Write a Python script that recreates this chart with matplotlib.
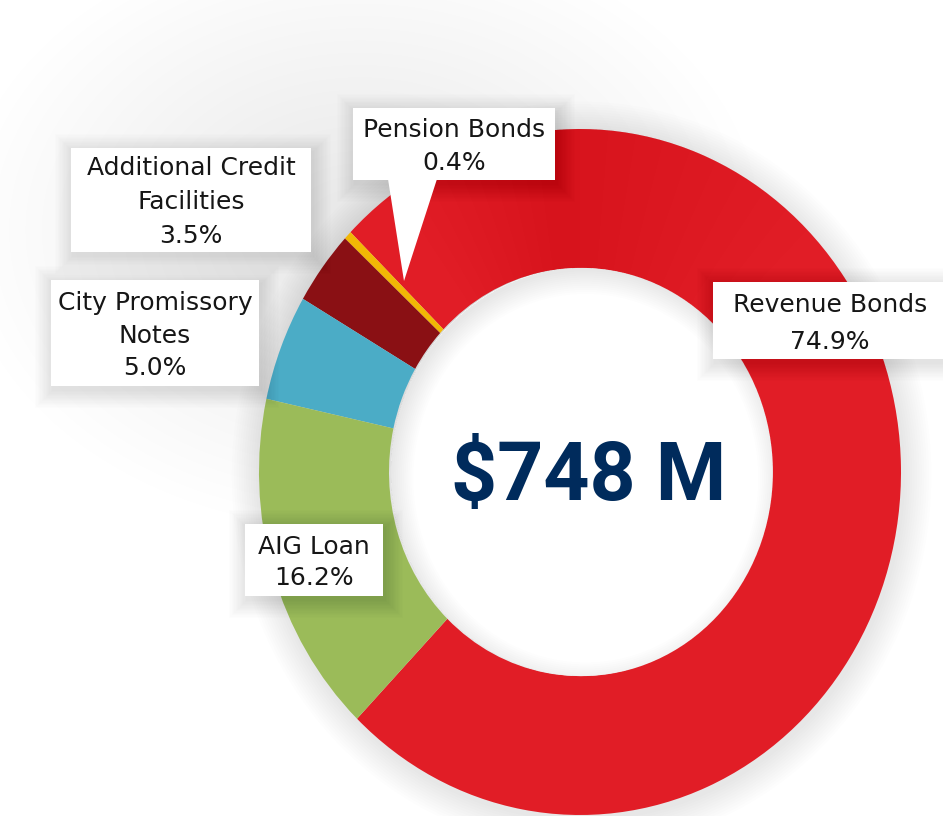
import matplotlib
matplotlib.use("Agg")
import matplotlib.pyplot as plt
from matplotlib.patches import Rectangle, Polygon, Ellipse, Wedge, Circle

# ---------------- data ----------------
categories = ["Revenue Bonds", "Pension Bonds", "Additional Credit Facilities",
              "City Promissory Notes", "AIG Loan"]
label_lines = [["Revenue Bonds"], ["Pension Bonds"], ["Additional Credit", "Facilities"],
               ["City Promissory", "Notes"], ["AIG Loan"]]
shares = [74.9, 0.4, 3.5, 5.0, 16.2]
total_label = "$748 M"

colors = ["#E11D26", "#F2B705", "#8A1014", "#4BACC6", "#9BBB59"]

# ---------------- layout (image pixels) ----------------
W, H = 943, 816
CX, CY = 580, 472          # ring centre in pixels
RX, RY = 321, 343          # outer radius in pixels (horizontal / vertical)


def P(x, y):
    return ((x - CX) / RX, (CY - y) / RY)


fig = plt.figure(figsize=(W / 100, H / 100), dpi=100)
ax = fig.add_axes([0, 0, 1, 1])

# broad grey haze at the upper left
hx, hy = P(360, 230)
n = 22
for k in range(n):
    r = 40 + 360 * (k + 1) / n
    ax.add_patch(Ellipse((hx, hy), 2 * r / RX, 1.5 * r / RY, facecolor="black",
                         edgecolor="none", alpha=0.0042, zorder=0))

# tight shadow around the ring
n = 12
for k in range(n):
    s = 1.0 + 0.09 * (k + 1) / n
    ax.add_patch(Ellipse((0.005, -0.01), 2 * s, 2 * s, facecolor="black",
                         edgecolor="none", alpha=0.0075, zorder=1))

# ring
wedges, _ = ax.pie(shares, colors=colors, startangle=226, counterclock=True,
                   radius=1.0, wedgeprops=dict(width=0.405, edgecolor="none"))
for w in wedges:
    w.set_zorder(2)

# slightly darker top of the big red slice
for k in range(10):
    shade = Wedge((0, 0), 1.0, 45 + 5 * k, 125 - 3 * k, width=0.405,
                  facecolor="#B0121A", edgecolor="none", alpha=0.02, zorder=2.5)
    ax.add_patch(shade)

# white hole + inner shadow
r_in = 0.595
hole = Circle((0.006, 0), r_in, facecolor="white", edgecolor="none", zorder=3)
ax.add_patch(hole)
for k in range(12):
    ring = Wedge((0.018, -0.018), r_in + 0.02, 0, 360, width=0.012 + 0.006 * k,
                 facecolor="black", edgecolor="none", alpha=0.009, zorder=4)
    ring.set_clip_path(hole)
    ax.add_patch(ring)

# centre total
ax.text(*P(589, 500), total_label, ha="center", va="baseline",
        fontsize=58, fontweight="bold", color="#002B5C",
        family=["Roboto", "DejaVu Sans"], zorder=6)

# label boxes: (x0, y0, x1, y1, centre x, line ys)
boxes = [
    (713, 282, 960, 359, 830, [305, 342]),
    (353, 108, 555, 180, 454, [130, 163]),
    (71, 148, 311, 252, 191, [168, 202, 236]),
    (51, 280, 259, 386, 155, [303, 336, 368]),
    (245, 524, 383, 596, 314, [547, 578]),
]

# pointer of the Pension Bonds callout
ax.add_patch(Polygon([P(388, 179), P(437, 179), P(404, 281)], closed=True,
                     facecolor="white", edgecolor="none", zorder=7))

for i, (x0, y0, x1, y1, tx, ys) in enumerate(boxes):
    # soft shadow
    for k in range(14):
        pad = 1 + 1.3 * k
        a, b = P(x0 - pad + 2, y1 + pad + 4)
        c, d = P(x1 + pad + 2, y0 - pad + 4)
        ax.add_patch(Rectangle((a, b), c - a, d - b, facecolor="black",
                               edgecolor="none", alpha=0.006, zorder=5))
    a, b = P(x0, y1)
    c, d = P(x1, y0)
    ax.add_patch(Rectangle((a, b), c - a, d - b, facecolor="white",
                           edgecolor="none", zorder=8))
    lines = label_lines[i] + [f"{shares[i]:.1f}%"]
    for line, y in zip(lines, ys):
        ax.text(*P(tx, y), line, ha="center", va="center", fontsize=18,
                color="#161616", family=["DejaVu Sans"], zorder=9)

ax.set_aspect("auto")
ax.set_xlim((0 - CX) / RX, (W - CX) / RX)
ax.set_ylim((CY - H) / RY, CY / RY)
ax.axis("off")

fig.savefig("out.png", dpi=100, facecolor="white")
